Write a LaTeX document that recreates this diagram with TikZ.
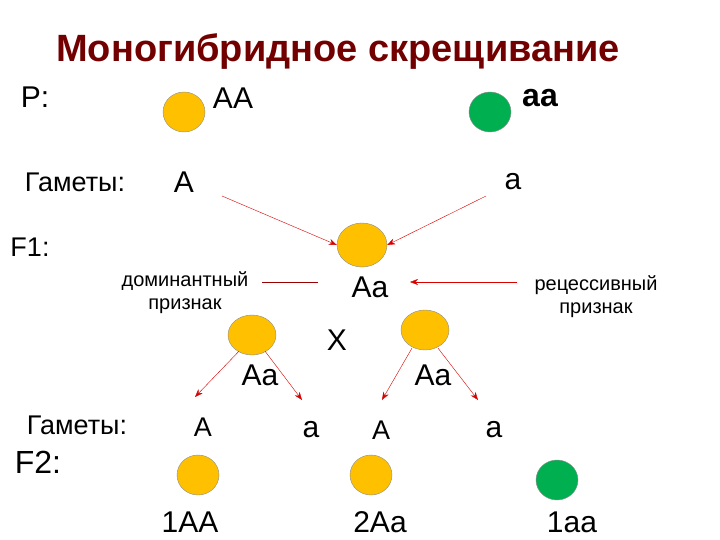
\documentclass[tikz,border=0pt]{standalone}
\usepackage{fontspec}
\setmainfont{Liberation Sans}
\usetikzlibrary{arrows.meta,shapes.geometric}
\definecolor{yc}{HTML}{FFC000}
\definecolor{gc}{HTML}{00B050}
\begin{document}
\begin{tikzpicture}[x=1pt,y=-1pt,
 yel/.style={ellipse,draw=black!45,fill=yc,minimum width=42pt,minimum height=40pt,inner sep=0},
 grn/.style={yel,fill=gc},
 t/.style={font=\fontsize{30}{30}\selectfont},
 m/.style={font=\fontsize{27}{27}\selectfont},
 s/.style={font=\fontsize{20}{23}\selectfont,align=center},
 ra/.style={draw=red!85!black,-{Stealth[length=8pt,width=6pt]}},
 ln/.style={draw=red!60!black}]
\useasboundingbox (0,0) rectangle (720,540);
\node[font=\bfseries\fontsize{38}{38}\selectfont,text=red!45!black] (title) at (338,52) {Моногибридное скрещивание};
\node[t] (p) at (35,97) {P:};
\node[yel] (c1) at (184,112) {};
\node[t] (aa1) at (233,98) {AA};
\node[grn] (c2) at (490,112) {};
\node[font=\bfseries\fontsize{32}{32}\selectfont] (aa2) at (540,98) {aa};
\node[m] (g1) at (75,182) {Гаметы:};
\node[t] (gA) at (184,182) {A};
\node[t] (ga) at (513,182) {a};
\node[m] (f1) at (30,247) {F1:};
\node[yel,minimum width=50pt,minimum height=44pt] (cf) at (362,245) {};
\coordinate (s1) at (222,196); \coordinate (s2) at (486,196);
\draw[ra] (s1) -- (cf.west);
\draw[ra] (s2) -- (cf.east);
\node[s] (dom) at (185,293) {доминантный\\признак};
\node[t] (Aa) at (370,287) {Aa};
\node[s] (rec) at (596,297) {рецессивный\\признак};
\coordinate (d1) at (262,282); \coordinate (d2) at (318,282);
\draw[ln] (d1) -- (d2);
\coordinate (r1) at (517,282); \coordinate (r2) at (410,282);
\draw[ra] (r1) -- (r2);
\node[yel,minimum width=48pt] (l) at (252,335) {};
\node[yel,minimum width=48pt] (r) at (425,330) {};
\node[t] (x) at (337,340) {X};
\node[t] (la) at (260,375) {Aa};
\node[t] (rA) at (433,375) {Aa};
\node[m] (g2) at (77,425) {Гаметы:};
\node[font=\fontsize{32}{32}\selectfont] (f2) at (38,462) {F2:};
\node[m] (A1) at (203,427) {A};
\node[t] (a1) at (311,430) {a};
\node[m] (A2) at (381,430) {A};
\node[t] (a2) at (494,430) {a};
\draw[ra] (l.south west)++(4,2) coordinate (u1) -- (195,397) coordinate (v1);
\draw[ra] (l.south east)++(-4,2) coordinate (u2) -- (302,400) coordinate (v2);
\draw[ra] (r.south west)++(4,4) coordinate (u3) -- (382,400) coordinate (v3);
\draw[ra] (r.south east)++(-4,4) coordinate (u4) -- (478,400) coordinate (v4);
\node[yel] (b1) at (198,475) {};
\node[yel] (b2) at (371,475) {};
\node[grn] (b3) at (557,480) {};
\node[t] (n1) at (190,522) {1AA};
\node[t] (n2) at (380,522) {2Aa};
\node[t] (n3) at (572,522) {1aa};
\end{tikzpicture}
\end{document}
